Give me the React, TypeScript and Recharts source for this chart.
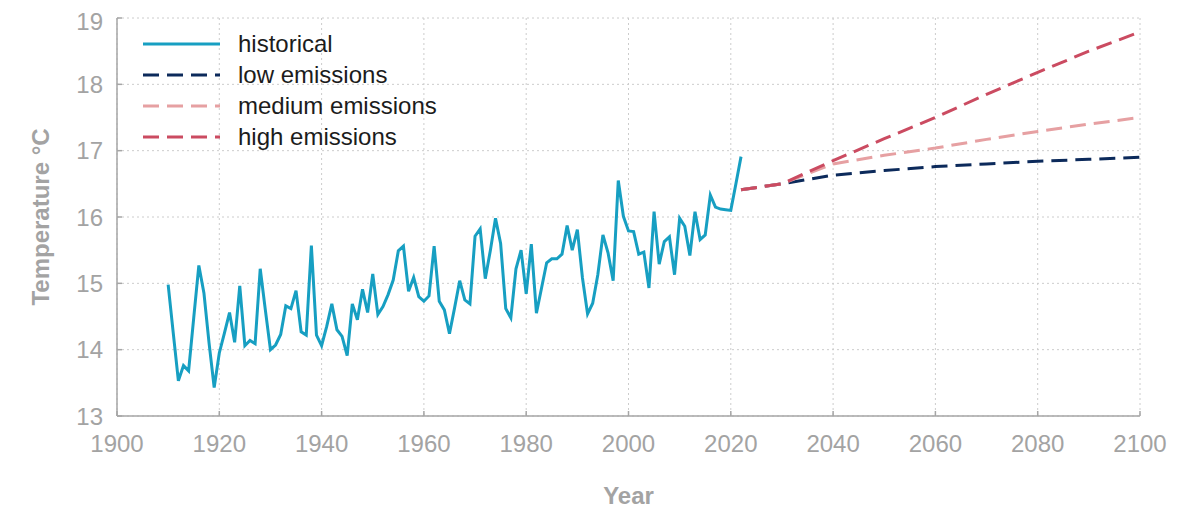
import { LineChart, Line, XAxis, YAxis, CartesianGrid, Legend } from "recharts"

const FONT = "'Liberation Sans', Arial, sans-serif"

// annual mean temperature, 1910..2022
const firstYear = 1910
const historicalTemps = [
  14.98, 14.25, 13.53, 13.76, 13.68, 14.48, 15.27, 14.85, 14.1, 13.43,
  13.95, 14.25, 14.56, 14.11, 14.96, 14.06, 14.14, 14.09, 15.22, 14.6,
  14.0, 14.07, 14.23, 14.66, 14.62, 14.89, 14.27, 14.22, 15.57, 14.22,
  14.06, 14.35, 14.69, 14.3, 14.2, 13.91, 14.69, 14.45, 14.91, 14.56,
  15.14, 14.53, 14.65, 14.83, 15.05, 15.49, 15.56, 14.88, 15.09, 14.8,
  14.73, 14.81, 15.56, 14.73, 14.6, 14.24, 14.63, 15.04, 14.75, 14.69,
  15.71, 15.82, 15.07, 15.5, 15.98, 15.6, 14.62, 14.48, 15.22, 15.5,
  14.84, 15.59, 14.55, 14.93, 15.31, 15.37, 15.37, 15.44, 15.87, 15.5,
  15.81, 15.08, 14.54, 14.7, 15.13, 15.73, 15.46, 15.04, 16.55, 16.01,
  15.79, 15.78, 15.44, 15.47, 14.93, 16.08, 15.29, 15.63, 15.7, 15.13,
  15.98, 15.86, 15.42, 16.08, 15.66, 15.73, 16.33, 16.15, 16.12, 16.11,
  16.1, 16.5, 16.91,
]

const projectionYears = [2022, 2030, 2040, 2050, 2060, 2070, 2080, 2090, 2100]
const lowEmissions = [16.41, 16.5, 16.63, 16.7, 16.76, 16.8, 16.84, 16.87, 16.9]
const mediumEmissions = [16.41, 16.5, 16.8, 16.93, 17.04, 17.17, 17.29, 17.4, 17.5]
const highEmissions = [16.41, 16.5, 16.85, 17.18, 17.5, 17.85, 18.18, 18.5, 18.79]

const seriesNames = ["historical", "low emissions", "medium emissions", "high emissions"]

const xTicks = [1900, 1920, 1940, 1960, 1980, 2000, 2020, 2040, 2060, 2080, 2100]
const yTicks = [13, 14, 15, 16, 17, 18, 19]

const historical = historicalTemps.map((temp, i) => ({ year: firstYear + i, temp }))
const projections = projectionYears.map((year, i) => ({
  year,
  low: lowEmissions[i],
  medium: mediumEmissions[i],
  high: highEmissions[i],
}))

const axisColor = "#a6a6a6"
const tickStyle = { fill: "#a3a3a3", fontSize: 24, fontFamily: FONT }

function LegendContent({ payload }: any) {
  // keep the order the series were declared in
  const items = [...(payload ?? [])].sort(
    (a: any, b: any) => seriesNames.indexOf(a.value) - seriesNames.indexOf(b.value)
  )
  return (
    <div>
      {items.map((entry: any) => (
        <div key={entry.value} style={{ display: "flex", alignItems: "center", height: 31 }}>
          <svg width={77} height={6}>
            <line
              x1={0}
              y1={3}
              x2={77}
              y2={3}
              stroke={entry.color}
              strokeWidth={3}
              strokeDasharray={entry.payload?.strokeDasharray}
            />
          </svg>
          <span style={{ marginLeft: 18, fontSize: 24, color: "#1c1c1c", fontFamily: FONT }}>
            {entry.value}
          </span>
        </div>
      ))}
    </div>
  )
}

function YTitle(props: any) {
  const vb = props.viewBox ?? { x: 9, y: 10, width: 100, height: 398 }
  const cx = vb.x + 23
  const cy = vb.y + vb.height / 2
  return (
    <text
      x={cx}
      y={cy}
      transform={`rotate(-90 ${cx} ${cy})`}
      textAnchor="middle"
      dominantBaseline="central"
      fill="#a3a3a3"
      fontSize={24}
      fontWeight="bold"
      fontFamily={FONT}
    >
      Temperature °C
    </text>
  )
}

function XTitle(props: any) {
  const vb = props.viewBox ?? { x: 109, y: 408, width: 1023, height: 93 }
  return (
    <text
      x={vb.x + vb.width / 2}
      y={vb.y + 79}
      textAnchor="middle"
      dominantBaseline="central"
      fill="#a3a3a3"
      fontSize={24}
      fontWeight="bold"
      fontFamily={FONT}
    >
      Year
    </text>
  )
}

export default function App() {
  return (
    <LineChart
      width={1191}
      height={501}
      margin={{ top: 10, right: 59, left: 9, bottom: 0 }}
      style={{ fontFamily: FONT }}
    >
      <CartesianGrid stroke="#cccccc" strokeDasharray="2 3" />
      <XAxis
        type="number"
        dataKey="year"
        domain={[1900, 2100]}
        ticks={xTicks}
        height={93}
        stroke={axisColor}
        strokeWidth={1.5}
        tick={tickStyle}
        tickSize={-5}
        tickMargin={24}
        label={{ content: <XTitle /> }}
      />
      <YAxis
        type="number"
        domain={[13, 19]}
        ticks={yTicks}
        width={100}
        stroke={axisColor}
        strokeWidth={1.5}
        tick={tickStyle}
        tickSize={-5}
        tickMargin={19}
        label={{ content: <YTitle /> }}
      />
      <Legend
        layout="vertical"
        align="center"
        verticalAlign="middle"
        content={<LegendContent />}
        wrapperStyle={{ top: 20, left: 135, width: "auto" }}
      />
      <Line
        data={historical}
        dataKey="temp"
        name="historical"
        stroke="#179fc2"
        strokeWidth={3}
        dot={false}
        isAnimationActive={false}
      />
      <Line
        data={projections}
        dataKey="low"
        name="low emissions"
        stroke="#0c2a5b"
        strokeWidth={3}
        strokeDasharray="16 8"
        dot={false}
        isAnimationActive={false}
      />
      <Line
        data={projections}
        dataKey="medium"
        name="medium emissions"
        stroke="#e6a0a2"
        strokeWidth={3}
        strokeDasharray="16 8"
        dot={false}
        isAnimationActive={false}
      />
      <Line
        data={projections}
        dataKey="high"
        name="high emissions"
        stroke="#cb4b61"
        strokeWidth={3}
        strokeDasharray="16 8"
        dot={false}
        isAnimationActive={false}
      />
    </LineChart>
  )
}
